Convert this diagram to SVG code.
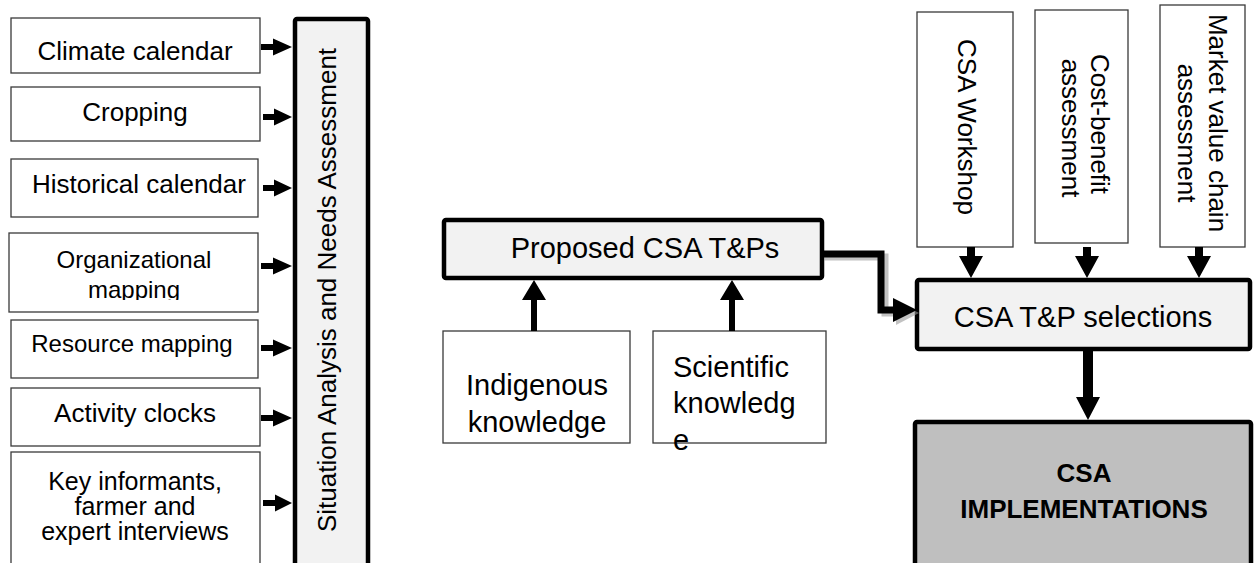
<svg xmlns="http://www.w3.org/2000/svg" width="1254" height="563" viewBox="0 0 1254 563">
<style>
text{font-family:"Liberation Sans",Arial,sans-serif;fill:#000}
.thin{fill:#fff;stroke:#3a3a3a;stroke-width:1.3}
.thick{fill:#f2f2f2;stroke:#000;stroke-width:4.5}
.impl{fill:#bfbfbf;stroke:#000;stroke-width:4.5}
.t26{font-size:26px}
.t25{font-size:25px}
.t24{font-size:24px}
.t29{font-size:29px}
.arw{fill:#000}
</style>
<defs>
<clipPath id="orgclip"><rect x="9" y="233" width="250" height="67"/></clipPath>
</defs>
<rect width="1254" height="563" fill="#fff"/>

<g id="climate"><rect class="thin" x="11" y="18" width="249" height="55"/><text class="t26" x="135" y="60" text-anchor="middle">Climate calendar</text></g>
<g id="cropping"><rect class="thin" x="11" y="87" width="249" height="54"/><text class="t26" x="135" y="121" text-anchor="middle">Cropping</text></g>
<g id="historical"><rect class="thin" x="11" y="159" width="247" height="58"/><text class="t26" x="139" y="193" text-anchor="middle">Historical calendar</text></g>
<g id="organizational"><rect class="thin" x="9" y="233" width="249" height="79"/><g clip-path="url(#orgclip)"><text class="t24" x="134" y="268" text-anchor="middle">Organizational</text><text class="t24" x="134" y="298" text-anchor="middle">mapping</text></g></g>
<g id="resource"><rect class="thin" x="11" y="320" width="247" height="58"/><text class="t24" x="132" y="352" text-anchor="middle">Resource mapping</text></g>
<g id="activity"><rect class="thin" x="11" y="388" width="249" height="58"/><text class="t26" x="135" y="422" text-anchor="middle">Activity clocks</text></g>
<g id="keyinformants"><rect class="thin" x="11" y="452" width="249" height="130"/><text class="t25" x="135" y="490" text-anchor="middle">Key informants,</text><text class="t25" x="135" y="515" text-anchor="middle">farmer and</text><text class="t25" x="135" y="540" text-anchor="middle">expert interviews</text></g>

<g id="situation"><rect class="thick" x="295" y="19" width="73" height="560" rx="2"/><text class="t26" transform="translate(336,290) rotate(-90)" text-anchor="middle">Situation Analysis and Needs Assessment</text></g>

<g id="proposed"><rect class="thick" x="444" y="220" width="378" height="58" rx="2"/><text class="t29" x="645" y="258" text-anchor="middle">Proposed CSA T&amp;Ps</text></g>
<g id="indigenous"><rect class="thin" x="443" y="331" width="187" height="112"/><text class="t29" x="537" y="395" text-anchor="middle">Indigenous</text><text class="t29" x="537" y="432" text-anchor="middle">knowledge</text></g>
<g id="scientific"><rect class="thin" x="653" y="331" width="173" height="112"/><text class="t29" x="673" y="377">Scientific</text><text class="t29" x="673" y="413">knowledg</text><text class="t29" x="673" y="450">e</text></g>

<g id="workshop"><rect class="thin" x="917" y="12" width="96" height="235"/><text class="t26" transform="translate(958,127) rotate(90)" text-anchor="middle">CSA Workshop</text></g>
<g id="costbenefit"><rect class="thin" x="1035" y="10" width="93" height="233"/><text class="t26" transform="translate(1091,124) rotate(90)" text-anchor="middle">Cost-benefit</text><text class="t26" transform="translate(1062,128) rotate(90)" text-anchor="middle">assessment</text></g>
<g id="market"><rect class="thin" x="1160" y="5" width="85" height="242"/><text class="t26" transform="translate(1209,123) rotate(90)" text-anchor="middle">Market value chain</text><text class="t26" transform="translate(1178,133) rotate(90)" text-anchor="middle">assessment</text></g>

<g id="selections"><rect class="thick" x="917" y="280" width="333" height="69" rx="2"/><text class="t29" x="1083" y="327" text-anchor="middle">CSA T&amp;P selections</text></g>
<g id="implementations"><rect class="impl" x="915" y="422" width="336" height="160" rx="2"/><text class="t26" x="1084" y="482" text-anchor="middle" font-weight="bold">CSA</text><text class="t26" x="1084" y="518" text-anchor="middle" font-weight="bold">IMPLEMENTATIONS</text></g>

<g id="connectors">
<g class="arw">
<path d="M261,44 H273 V38.5 L292,47 L273,55.5 V50 H261 Z"/>
<path d="M263,114 H274 V108.5 L292,117 L274,125.5 V120 H263 Z"/>
<path d="M263,185 H274 V179.5 L292,188 L274,196.5 V191 H263 Z"/>
<path d="M261,263 H273 V257.5 L292,266 L273,274.5 V269 H261 Z"/>
<path d="M261,345 H273 V339.5 L292,348 L273,356.5 V351 H261 Z"/>
<path d="M261,415 H273 V409.5 L292,418 L273,426.5 V421 H261 Z"/>
<path d="M263,500 H275 V494.5 L292,503 L275,511.5 V506 H263 Z"/>
<path d="M531,331 V300 H522 L534,280 L546,300 H537 V331 Z"/>
<path d="M729,331 V300 H720 L732,280 L744,300 H735 V331 Z"/>
<path d="M967,247 V256 H959 L971,278 L983,256 H975 V247 Z"/>
<path d="M1083,247 V256 H1075 L1087,278 L1099,256 H1091 V247 Z"/>
<path d="M1195,247 V256 H1187 L1199,278 L1211,256 H1203 V247 Z"/>
<path d="M1083,350 V397 H1076 L1088,420 L1100,397 H1093 V350 Z"/>
</g>
<path d="M824,257 H885 V313 H896" fill="none" stroke="#9a9a9a" stroke-width="7" opacity="0.6"/>
<path d="M896,301 L919,313 L896,325 Z" fill="#9a9a9a" opacity="0.6"/>
<path d="M823,254 H881 V310 H894" fill="none" stroke="#000" stroke-width="7"/>
<path d="M893,298 L917,310 L893,322 Z" fill="#000"/>
</g>
</svg>
